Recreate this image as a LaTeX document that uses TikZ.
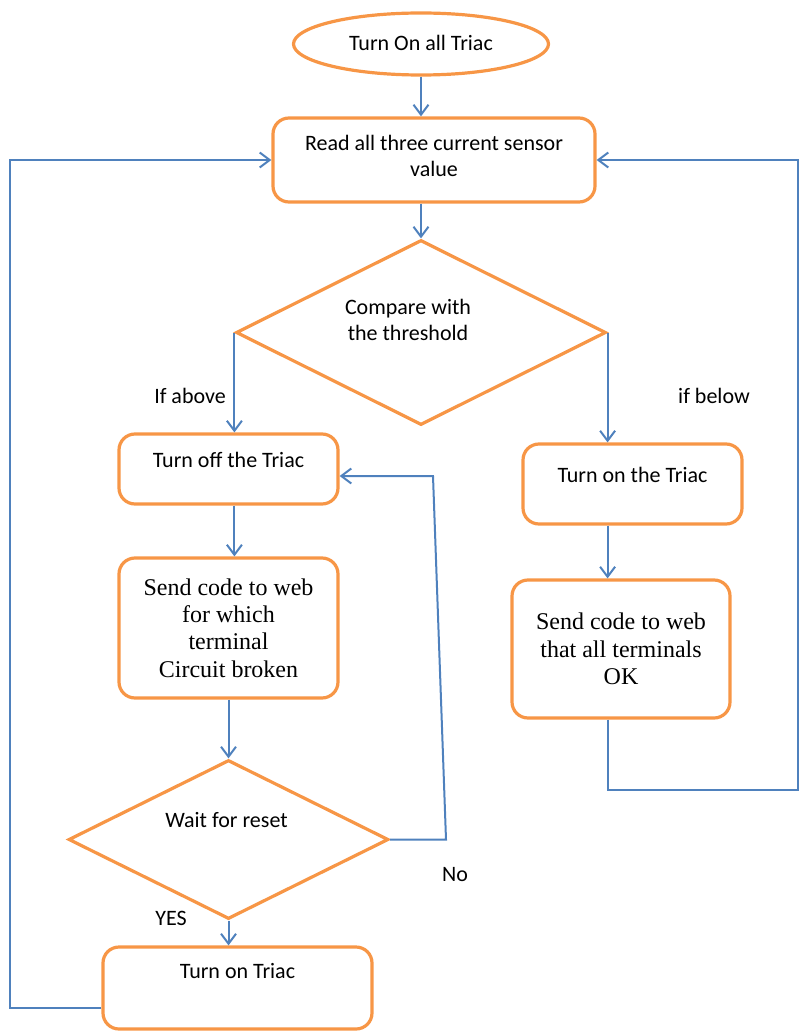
\documentclass[tikz,border=0pt]{standalone}
\usepackage{fontspec}
\setmainfont{Liberation Serif}
\newfontfamily\calfont{Carlito}
\usetikzlibrary{shapes.geometric,arrows.meta}
\definecolor{ora}{HTML}{F79646}
\definecolor{blu}{HTML}{4F81BD}
\begin{document}
\begin{tikzpicture}[x=1pt,y=-1pt,
  box/.style={draw=ora, line width=3.2pt, rounded corners=16pt, fill=white, inner sep=0pt},
  lbl/.style={font=\calfont\fontsize{22}{26}\selectfont, align=center, inner sep=0pt},
  ser/.style={font=\fontsize{24}{27.3}\selectfont, align=center},
  dia/.style={draw=ora, line width=3.2pt, diamond, inner sep=0pt},
  conn/.style={draw=blu, line width=2pt, -{Straight Barb[length=10pt,width=15pt]}}]
\useasboundingbox (0,0) rectangle (800,1032);

\node[ellipse, draw=ora, line width=3.2pt, minimum width=255pt, minimum height=62pt, inner sep=0pt,
  label={[lbl, name=startt, yshift=1.5pt]center:Turn On all Triac}] (start) at (421,44) {};
\node[box, minimum width=322pt, minimum height=84pt,
  label={[lbl, name=readt, yshift=4pt]center:Read all three current sensor\\value}] (read) at (434,160) {};
\node[dia, minimum width=370pt, minimum height=185pt,
  label={[lbl, name=cmpt, xshift=-13pt, yshift=13pt]center:Compare with\\the threshold}] (cmp) at (421,332.5) {};
\node[box, minimum width=219pt, minimum height=70pt,
  label={[lbl, name=offt, yshift=9pt]center:Turn off the Triac}] (off) at (228.5,469) {};
\node[box, ser, minimum width=219pt, minimum height=140pt] (send1) at (228.5,628) {Send code to web\\for which\\terminal\\Circuit broken};
\node[dia, minimum width=320pt, minimum height=159pt,
  label={[lbl, name=waitt, xshift=-2pt, yshift=19.5pt]center:Wait for reset}] (wait) at (228.5,839.5) {};
\node[box, minimum width=269pt, minimum height=82pt,
  label={[lbl, name=tont, yshift=17pt]center:Turn on Triac}] (ton) at (237.5,988) {};
\node[box, minimum width=219pt, minimum height=80pt,
  label={[lbl, name=ont, yshift=9pt]center:Turn on the Triac}] (on) at (632.5,484) {};
\node[box, ser, minimum width=218pt, minimum height=138pt] (send2) at (621,649) {Send code to web\\that all terminals\\OK};

\node[lbl] (above) at (190,396) {If above};
\node[lbl] (below) at (714,396) {if below};
\node[lbl] (no) at (455,875) {No};
\node[lbl] (yes) at (171,918) {YES};

\coordinate (n1) at (446,839.5);
\coordinate (n2) at (433,476);
\coordinate (l1) at (10,1008);
\coordinate (r1) at (798,790);

\draw[conn] (start.south) -- (start.south |- read.north);
\draw[conn] (cmp.north |- read.south) -- (cmp.north);
\draw[conn] (cmp.west) -- (cmp.west |- off.north);
\draw[conn] (cmp.east) -- (cmp.east |- on.north);
\draw[conn] (cmp.west |- off.south) -- (cmp.west |- send1.north);
\draw[conn] (send1.south) -- (wait.north);
\draw[conn] (wait.east) -- (n1) -- (n2) -- (n2 -| off.east);
\draw[conn] (wait.south) -- (wait.south |- ton.north);
\draw[conn] (ton.west |- l1) -- (l1) -- (l1 |- read.west) -- (read.west);
\draw[conn] (cmp.east |- on.south) -- (cmp.east |- send2.north);
\draw[conn] (cmp.east |- send2.south) -- (cmp.east |- r1) -- (r1) -- (r1 |- read.east) -- (read.east);
\end{tikzpicture}
\end{document}
